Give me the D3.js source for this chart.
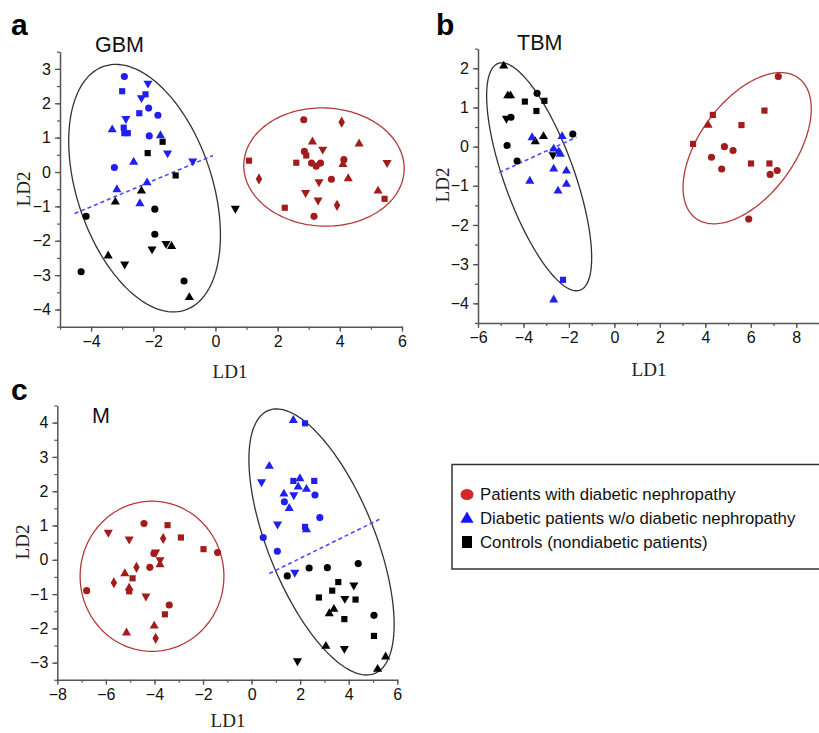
<!DOCTYPE html>
<html><head><meta charset="utf-8">
<script src="https://cdn.jsdelivr.net/npm/d3@7"></script>
<style>
html,body{margin:0;padding:0;background:#fff;}
svg{display:block;}
</style></head>
<body>
<svg id="chart" width="819" height="733"></svg>
<script>
// ---------- DATA ----------
// shapes: o circle, s square, ^ triangle, v inverted triangle, d diamond
const gbmDN = [[1.08,0.33,"s"],[1.40,-0.2,"d"],[2.23,-1.04,"s"],[2.6,0.27,"s"],[2.84,1.52,"o"],[2.86,0.6,"o"],[2.92,0.48,"s"],[3.12,0.88,"^"],[3.45,0.66,"v"],[3.09,0.26,"o"],[3.24,0.17,"o"],[3.38,0.26,"o"],[3.33,-0.29,"v"],[2.9,-0.6,"v"],[3.3,-0.82,"v"],[3.17,-1.29,"o"],[3.73,-0.21,"o"],[4.06,1.45,"d"],[4.13,0.36,"o"],[4.1,0.22,"^"],[4.27,-0.19,"^"],[4.62,0.82,"^"],[3.91,-0.97,"d"],[5.52,0.27,"v"],[5.23,-0.55,"^"],[5.44,-0.78,"s"]];
const gbmDM = [[-2.93,2.78,"o"],[-3.0,2.35,"s"],[-2.17,2.58,"v"],[-2.25,2.26,"s"],[-2.38,2.16,"v"],[-2.45,1.71,"s"],[-2.15,1.86,"o"],[-1.85,1.65,"o"],[-2.88,1.55,"v"],[-3.32,1.23,"^"],[-2.95,1.29,"s"],[-2.93,1.13,"s"],[-2.82,1.13,"s"],[-2.13,1.05,"o"],[-1.77,1.06,"^"],[-1.54,0.55,"v"],[-2.63,0.29,"^"],[-3.25,0.13,"o"],[-0.73,0.32,"v"],[-3.17,-0.51,"^"],[-2.2,-0.31,"^"],[-2.43,-0.92,"^"]];
const gbmCtrl = [[-1.7,0.88,"s"],[-2.18,0.55,"s"],[-1.28,-0.1,"s"],[-2.38,-0.55,"^"],[-3.22,-0.87,"^"],[-4.16,-1.29,"o"],[-1.95,-1.08,"o"],[0.64,-1.06,"v"],[-1.95,-1.81,"o"],[-2.04,-2.24,"v"],[-1.59,-2.08,"v"],[-1.41,-2.16,"^"],[-3.45,-2.44,"^"],[-2.92,-2.68,"v"],[-4.32,-2.9,"o"],[-1.01,-3.17,"o"],[-0.84,-3.65,"^"]];

const tbmDN = [[3.46,0.07,"s"],[4.12,0.55,"^"],[4.33,0.81,"s"],[4.27,-0.27,"o"],[4.72,-0.57,"o"],[4.84,0.0,"o"],[5.22,-0.1,"o"],[5.59,0.55,"s"],[6.01,-0.43,"s"],[6.6,0.92,"s"],[6.82,-0.43,"s"],[6.85,-0.71,"o"],[7.16,-0.61,"o"],[7.21,1.79,"o"],[5.91,-1.85,"o"]];
const tbmDM = [[-3.62,0.23,"^"],[-2.3,0.26,"^"],[-2.67,-0.06,"^"],[-2.45,-0.13,"^"],[-2.38,-0.19,"^"],[-2.67,-0.57,"^"],[-2.11,-0.62,"^"],[-3.72,-0.88,"^"],[-2.11,-0.96,"^"],[-2.48,-1.13,"^"],[-2.26,-3.4,"s"],[-2.67,-3.91,"^"]];
const tbmCtrl = [[-4.87,2.06,"^"],[-4.69,1.3,"^"],[-4.57,1.3,"^"],[-3.94,1.15,"s"],[-3.4,1.36,"o"],[-3.08,1.17,"s"],[-3.43,0.91,"s"],[-4.75,0.72,"v"],[-4.55,0.75,"o"],[-4.72,0.03,"o"],[-3.12,0.26,"^"],[-3.48,0.13,"^"],[-1.83,0.32,"o"],[-4.28,-0.37,"o"],[-2.7,-0.21,"v"]];

const mDN = [[-4.43,1.06,"o"],[-3.46,1.01,"s"],[-5.9,0.8,"v"],[-5.04,0.6,"v"],[-3.64,0.62,"d"],[-2.91,0.65,"s"],[-1.98,0.31,"s"],[-1.4,0.21,"o"],[-4.02,0.18,"o"],[-3.95,0.22,"v"],[-3.77,0.0,"v"],[-3.77,-0.14,"^"],[-4.74,-0.22,"d"],[-4.19,-0.22,"o"],[-5.22,-0.4,"^"],[-4.9,-0.54,"s"],[-5.67,-0.67,"d"],[-6.79,-0.9,"o"],[-5.04,-0.92,"s"],[-5.04,-0.82,"^"],[-4.35,-1.06,"v"],[-3.39,-1.32,"o"],[-3.57,-1.59,"s"],[-5.15,-2.13,"^"],[-4.01,-1.93,"^"],[-3.95,-2.29,"d"]];
const mDM = [[1.72,4.07,"^"],[2.2,3.98,"s"],[0.73,2.73,"^"],[0.41,2.27,"v"],[1.72,2.3,"s"],[1.99,2.37,"^"],[1.92,2.13,"^"],[2.58,2.3,"s"],[2.26,2.06,"^"],[1.33,1.92,"^"],[1.74,1.89,"v"],[2.61,1.89,"o"],[1.35,1.69,"o"],[1.55,1.5,"^"],[2.81,1.23,"o"],[1.07,1.04,"v"],[2.2,0.96,"s"],[2.26,0.88,"^"],[0.48,0.65,"o"],[1.06,0.25,"o"],[1.78,-0.37,"v"]];
const mCtrl = [[1.47,-0.47,"o"],[2.37,-0.24,"o"],[3.12,-0.23,"o"],[4.39,-0.11,"o"],[4.21,-0.74,"v"],[3.57,-0.65,"s"],[3.32,-0.9,"s"],[2.77,-1.1,"s"],[3.84,-1.13,"v"],[4.28,-1.16,"s"],[3.39,-1.44,"^"],[3.2,-1.57,"^"],[3.82,-1.73,"s"],[5.04,-1.62,"o"],[5.04,-2.22,"s"],[3.06,-2.52,"^"],[3.82,-2.59,"v"],[1.89,-2.95,"v"],[5.52,-2.83,"^"],[5.19,-3.19,"^"]];

// ellipses: [cx, cy, rx, ry, cos(phase)]
const gbmEllipseDiab = [-2.28,-0.47,2.44,3.6,-0.38];
const gbmEllipseDN = [3.49,0.145,2.58,1.72,-0.025];
const tbmEllipseDiab = [-3.31,-0.77,2.31,2.91,-0.71];
const tbmEllipseDN = [5.84,-0.04,2.82,1.93,0.52];
const mEllipseDiab = [2.88,0.52,2.99,3.88,-0.62];
const mEllipseDN = [-4.1,-0.48,2.96,2.19,0.0];

// dashed separating lines: [[x1,y1],[x2,y2]]
const gbmLine = [[-4.53,-1.21],[-0.08,0.48]];
const tbmLine = [[-5.06,-0.66],[-1.67,0.24]];
const mLine = [[0.73,-0.4],[5.26,1.18]];

const legendLabels = ["Patients with diabetic nephropathy","Diabetic patients w/o diabetic nephropathy","Controls (nondiabetic patients)"];

// ---------- DRAW ----------
const svg = d3.select("#chart");
const COL = {dn:"#a31c1c", dm:"#2020ee", ctrl:"#000000"};
const sansFont = "'Liberation Sans', Arial, Helvetica, sans-serif";
const serifFont = "'Liberation Serif', 'Times New Roman', serif";
const intFmt = d3.format("d");

function symbolPath(s){
  switch(s){
    case "o": return d3.symbol(d3.symbolCircle, 40)();
    case "s": return d3.symbol(d3.symbolSquare, 38)();
    case "^": return d3.symbol(d3.symbolTriangle, 36)();
    case "v": return d3.symbol(d3.symbolTriangle, 36)();
    case "d": return d3.symbol(d3.symbolDiamond, 36)();
  }
}

function panel(cfg){
  const g = svg.append("g");
  const x = d3.scaleLinear().domain(cfg.xd).range(cfg.xr);
  const y = d3.scaleLinear().domain(cfg.yd).range(cfg.yr);

  const xMinor = d3.range(cfg.xd[0], cfg.xd[1]+1e-9, cfg.xMinorStep);
  const yMinor = d3.range(cfg.yd[0], cfg.yd[1]+1e-9, cfg.yMinorStep);
  const axCol = "#555";
  g.append("g").attr("transform",`translate(0,${cfg.yr[0]})`)
    .call(d3.axisBottom(x).tickValues(xMinor).tickSize(3).tickSizeOuter(0).tickFormat(""))
    .call(a=>{a.select(".domain").remove(); a.selectAll("line").attr("stroke",axCol).attr("stroke-width",1.2);});
  g.append("g").attr("transform",`translate(${cfg.xr[0]},0)`)
    .call(d3.axisLeft(y).tickValues(yMinor).tickSize(3).tickSizeOuter(0).tickFormat(""))
    .call(a=>{a.select(".domain").remove(); a.selectAll("line").attr("stroke",axCol).attr("stroke-width",1.2);});
  g.append("g").attr("transform",`translate(0,${cfg.yr[0]})`)
    .call(d3.axisBottom(x).tickValues(cfg.xTicks).tickFormat(intFmt).tickSize(5).tickSizeOuter(0).tickPadding(4))
    .call(a=>{a.select(".domain").attr("stroke",axCol).attr("stroke-width",1.5);
      a.selectAll("line").attr("stroke",axCol).attr("stroke-width",1.3);
      a.selectAll("text").attr("font-family",sansFont).attr("font-size",16).attr("fill","#111");});
  g.append("g").attr("transform",`translate(${cfg.xr[0]},0)`)
    .call(d3.axisLeft(y).tickValues(cfg.yTicks).tickFormat(intFmt).tickSize(5).tickSizeOuter(0).tickPadding(4))
    .call(a=>{a.select(".domain").attr("stroke",axCol).attr("stroke-width",1.5);
      a.selectAll("line").attr("stroke",axCol).attr("stroke-width",1.3);
      a.selectAll("text").attr("font-family",sansFont).attr("font-size",16).attr("fill","#111");});

  function ell(p, stroke){
    const [cx,cy,rx,ry,cp] = p;
    const ph = Math.acos(cp);
    const pts = d3.range(0, 2*Math.PI+0.001, Math.PI/90).map(t=>[x(cx+rx*Math.cos(t)), y(cy+ry*Math.cos(t-ph))]);
    g.append("path").attr("d", d3.line()(pts)+"Z").attr("fill","none").attr("stroke",stroke).attr("stroke-width",1.3);
  }
  ell(cfg.ellDiab, "#333");
  ell(cfg.ellDN, "#b23a3a");

  g.append("line").attr("x1",x(cfg.line[0][0])).attr("y1",y(cfg.line[0][1]))
    .attr("x2",x(cfg.line[1][0])).attr("y2",y(cfg.line[1][1]))
    .attr("stroke","#4a4aff").attr("stroke-width",1.6).attr("stroke-dasharray","4,3");

  [[cfg.ctrl,COL.ctrl],[cfg.dm,COL.dm],[cfg.dn,COL.dn]].forEach(([arr,c])=>{
    g.selectAll(null).data(arr).enter().append("path")
      .attr("d", d=>symbolPath(d[2]))
      .attr("transform", d=>`translate(${x(d[0])},${y(d[1])})${d[2]==="v"?" rotate(180)":""}`)
      .attr("fill", c);
  });

  g.append("text").attr("x",cfg.letter[0]).attr("y",cfg.letter[1]).text(cfg.letterText)
    .attr("font-family",sansFont).attr("font-weight","bold").attr("font-size",30).attr("fill","#000");
  g.append("text").attr("x",cfg.title[0]).attr("y",cfg.title[1]).text(cfg.titleText)
    .attr("font-family",sansFont).attr("font-size",21.5).attr("fill","#111");
  g.append("text").attr("x",cfg.xlab[0]).attr("y",cfg.xlab[1]).text("LD1")
    .attr("text-anchor","middle").attr("font-family",serifFont).attr("font-size",19).attr("fill","#222");
  g.append("text").attr("transform",`translate(${cfg.ylab[0]},${cfg.ylab[1]}) rotate(-90)`).text("LD2")
    .attr("text-anchor","middle").attr("dominant-baseline","central").attr("font-family",serifFont).attr("font-size",19).attr("fill","#222");
}

panel({xd:[-5,6], xr:[60,402], yd:[-4.5,3.5], yr:[326.7,51.7],
  xTicks:[-4,-2,0,2,4,6], yTicks:[-4,-3,-2,-1,0,1,2,3], xMinorStep:1, yMinorStep:0.5,
  dn:gbmDN, dm:gbmDM, ctrl:gbmCtrl, ellDiab:gbmEllipseDiab, ellDN:gbmEllipseDN, line:gbmLine,
  letter:[11,35], letterText:"a", title:[95,52], titleText:"GBM", xlab:[230,378], ylab:[23,189]});

panel({xd:[-6,9], xr:[478,819], yd:[-4.5,2.5], yr:[322.9,48.7],
  xTicks:[-6,-4,-2,0,2,4,6,8], yTicks:[-4,-3,-2,-1,0,1,2], xMinorStep:1, yMinorStep:0.5,
  dn:tbmDN, dm:tbmDM, ctrl:tbmCtrl, ellDiab:tbmEllipseDiab, ellDN:tbmEllipseDN, line:tbmLine,
  letter:[436,35], letterText:"b", title:[517,50], titleText:"TBM", xlab:[649,376], ylab:[442,185]});

panel({xd:[-8,6], xr:[57.3,397.3], yd:[-3.5,4.5], yr:[679.8,405.5],
  xTicks:[-8,-6,-4,-2,0,2,4,6], yTicks:[-3,-2,-1,0,1,2,3,4], xMinorStep:1, yMinorStep:0.5,
  dn:mDN, dm:mDM, ctrl:mCtrl, ellDiab:mEllipseDiab, ellDN:mEllipseDN, line:mLine,
  letter:[11,400], letterText:"c", title:[92,423], titleText:"M", xlab:[228,727], ylab:[22,542]});

// legend
const lg = svg.append("g");
lg.append("rect").attr("x",452).attr("y",464.5).attr("width",380).attr("height",104.5)
  .attr("fill","#fff").attr("stroke","#333").attr("stroke-width",1.5);
const legCols = ["#d42828","#1515ff","#000"];
const legY = [494.5, 518, 542];
lg.append("ellipse").attr("cx",467).attr("cy",legY[0]).attr("rx",6.5).attr("ry",5.5).attr("fill",legCols[0]);
lg.append("path").attr("d",d3.symbol(d3.symbolTriangle,75)()).attr("transform",`translate(467,${legY[1]+1})`).attr("fill",legCols[1]);
lg.append("rect").attr("x",462).attr("y",legY[2]-6).attr("width",10).attr("height",12).attr("fill",legCols[2]);
lg.selectAll("text.leg").data(legendLabels).enter().append("text")
  .attr("x",480).attr("y",(d,i)=>legY[i]).attr("dominant-baseline","central")
  .attr("font-family",sansFont).attr("font-size",16.8).attr("fill","#111").text(d=>d);
</script>
</body></html>
